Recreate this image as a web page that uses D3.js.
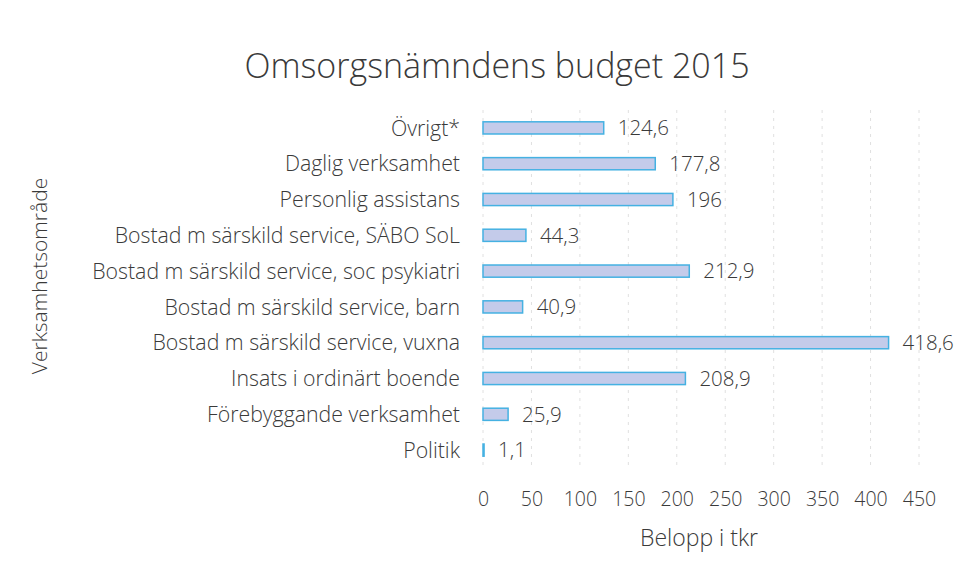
<!DOCTYPE html>
<html>
<head>
<meta charset="utf-8">
<script src="https://cdn.jsdelivr.net/npm/d3@7"></script>
<style>
  body { margin: 0; background: #fff; }
  text { font-family: "Open Sans", sans-serif; font-weight: 300; fill: #3a3a3a; }
</style>
</head>
<body>
<div id="chart"></div>
<script>
var categories = [
  "Övrigt*",
  "Daglig verksamhet",
  "Personlig assistans",
  "Bostad m särskild service, SÄBO SoL",
  "Bostad m särskild service, soc psykiatri",
  "Bostad m särskild service, barn",
  "Bostad m särskild service, vuxna",
  "Insats i ordinärt boende",
  "Förebyggande verksamhet",
  "Politik"
];
var values = [124.6, 177.8, 196, 44.3, 212.9, 40.9, 418.6, 208.9, 25.9, 1.1];
var xTicks = [0, 50, 100, 150, 200, 250, 300, 350, 400, 450];

var width = 962, height = 579;
var margin = {top: 110, right: 43, bottom: 111, left: 483};
var font = "'Open Sans', sans-serif";

var svg = d3.select("#chart")
  .append("svg")
    .attr("width", width)
    .attr("height", height);

var x = d3.scaleLinear()
  .domain([0, 450])
  .range([margin.left, width - margin.right]);

var y = d3.scaleBand()
  .domain(categories)
  .range([margin.top, height - margin.bottom])
  .paddingInner(0.66)
  .paddingOuter(0.33);

// gridlines
svg.append("g")
  .selectAll("line")
  .data(xTicks).enter()
  .append("line")
    .attr("x1", function(d) { return x(d); })
    .attr("x2", function(d) { return x(d); })
    .attr("y1", margin.top)
    .attr("y2", height - margin.bottom)
    .style("stroke", "#e0e0e0")
    .style("stroke-width", 1)
    .style("stroke-dasharray", "3,5");

// bars
svg.append("g")
  .selectAll("rect")
  .data(values).enter()
  .append("rect")
    .attr("x", x(0))
    .attr("y", function(d, i) { return y(categories[i]); })
    .attr("width", function(d) { return x(d) - x(0); })
    .attr("height", y.bandwidth())
    .style("fill", "#c4cbea")
    .style("stroke", "#45b1e2")
    .style("stroke-width", 1.5);

// value labels
svg.append("g")
  .selectAll("text")
  .data(values).enter()
  .append("text")
    .attr("x", function(d) { return x(d) + 14; })
    .attr("y", function(d, i) { return y(categories[i]) + y.bandwidth() / 2; })
    .attr("dy", "0.36em")
    .style("font-size", "20.5px")
    .text(function(d) { return String(d).replace(".", ","); });

// category axis
var yAxis = svg.append("g")
  .attr("transform", "translate(" + (margin.left - 23) + ",0)")
  .call(d3.axisLeft(y).tickSize(0).tickPadding(0));
yAxis.select(".domain").remove();
yAxis.selectAll("text")
  .attr("dy", "0.36em")
  .style("font-size", "21.3px")
  .style("font-family", font)
  .style("font-weight", 300)
  .style("fill", "#3a3a3a");

// value axis
var xAxis = svg.append("g")
  .attr("transform", "translate(0," + (height - margin.bottom + 18) + ")")
  .call(d3.axisBottom(x).tickValues(xTicks).tickSize(0).tickPadding(6));
xAxis.select(".domain").remove();
xAxis.selectAll("text")
  .style("font-size", "19.5px")
  .style("font-family", font)
  .style("font-weight", 300)
  .style("fill", "#3a3a3a");

// title
svg.append("text")
  .attr("x", 497)
  .attr("y", 78)
  .attr("text-anchor", "middle")
  .style("font-size", "34px")
  .text("Omsorgsnämndens budget 2015");

// axis titles
svg.append("text")
  .attr("x", 699)
  .attr("y", 546)
  .attr("text-anchor", "middle")
  .style("font-size", "23px")
  .text("Belopp i tkr");

svg.append("text")
  .attr("transform", "translate(47,276) rotate(-90)")
  .attr("text-anchor", "middle")
  .style("font-size", "21px")
  .text("Verksamhetsområde");
</script>
</body>
</html>
